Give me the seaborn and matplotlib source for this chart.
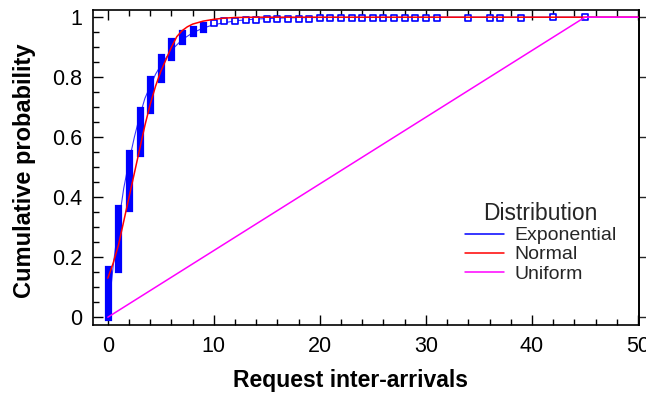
import numpy as np
import pandas as pd
import matplotlib
matplotlib.use("Agg")
import matplotlib.pyplot as plt
from matplotlib.ticker import MultipleLocator
import seaborn as sns

# ---------------- data ----------------
# empirical CDF jumps (filled bars) at integer inter-arrival values
ecdf_x = [0, 1, 2, 3, 4, 5, 6, 7, 8, 9]
ecdf_lo = [0.0, 0.16, 0.365, 0.548, 0.69, 0.795, 0.869, 0.92, 0.946, 0.962]
ecdf_hi = [0.16, 0.365, 0.548, 0.69, 0.795, 0.869, 0.92, 0.946, 0.962, 0.974]

# tail observations (open squares)
tail_x = [10, 11, 12, 13, 14, 15, 16, 17, 18, 19, 20, 21, 22, 23, 24, 25, 26,
          27, 28, 29, 30, 31, 34, 36, 37, 39, 42, 45]
tail_y = [0.982, 0.986, 0.989, 0.991, 0.992, 0.993, 0.994, 0.994, 0.995, 0.995,
          0.996, 0.996, 0.996, 0.997, 0.997, 0.997, 0.997, 0.998, 0.998, 0.998,
          0.998, 0.998, 0.999, 0.999, 0.999, 0.999, 1.0, 1.0]

# fitted distributions
exp_x = [0, 0.5, 1, 1.5, 2, 2.5, 3, 3.5, 4, 4.5, 5, 6, 7, 8, 9, 10, 12, 14, 17, 20, 30, 50]
exp_y = [0.0, 0.17, 0.31, 0.43, 0.52, 0.60, 0.67, 0.73, 0.77, 0.81, 0.84, 0.89,
         0.925, 0.948, 0.964, 0.975, 0.988, 0.994, 0.998, 0.999, 1.0, 1.0]

norm_x = [0, 0.5, 1, 1.5, 2, 2.5, 3, 3.5, 4, 4.5, 5, 5.5, 6, 6.5, 7, 7.5, 8, 9,
          10, 11, 12, 14, 50]
norm_y = [0.13, 0.18, 0.24, 0.32, 0.40, 0.48, 0.56, 0.64, 0.71, 0.77, 0.82, 0.86,
          0.90, 0.935, 0.955, 0.968, 0.977, 0.987, 0.993, 0.997, 0.999, 1.0, 1.0]

unif_x = [0, 45, 50]
unif_y = [0.0, 1.0, 1.0]

dist_names = ["Exponential", "Normal", "Uniform"]
dist_colors = ["#0000ff", "#ff0000", "#ff00ff"]

x_ticks = [0, 10, 20, 30, 40, 50]
y_ticks = [0, 0.2, 0.4, 0.6, 0.8, 1.0]
y_tick_labels = ["0", "0.2", "0.4", "0.6", "0.8", "1"]

# ---------------- plotting ----------------
sns.set_theme(style="ticks")
plt.rcParams["font.family"] = ["Liberation Sans", "DejaVu Sans"]

fig = plt.figure(figsize=(6.46, 3.96), dpi=100)
ax = fig.add_axes([93 / 646, 1 - 325 / 396, 546 / 646, 315 / 396])

curves = pd.concat([
    pd.DataFrame({"x": exp_x, "y": exp_y, "Distribution": dist_names[0]}),
    pd.DataFrame({"x": norm_x, "y": norm_y, "Distribution": dist_names[1]}),
    pd.DataFrame({"x": unif_x, "y": unif_y, "Distribution": dist_names[2]}),
], ignore_index=True)

sns.lineplot(data=curves, x="x", y="y", hue="Distribution",
             palette=dict(zip(dist_names, dist_colors)), linewidth=1.1,
             ax=ax, sort=False, estimator=None)
# blue (exponential) line sits under the data bars, others on top
lines = ax.get_lines()
lines[0].set_zorder(1)
lines[0].set_linewidth(0.8)
lines[0].set_alpha(0.8)
for ln in lines[1:3]:
    ln.set_zorder(4)

# empirical CDF bars
ax.vlines(ecdf_x, ecdf_lo, ecdf_hi, colors="#0000ff", linewidth=5.2,
          capstyle="projecting", zorder=2)
sns.scatterplot(x=tail_x, y=tail_y, marker="s", s=17, facecolor="white",
                edgecolor="#0000ff", linewidth=1.2, ax=ax, zorder=3, legend=False)

ax.set_xlim(-1.4, 50.1)
ax.set_ylim(-0.026, 1.024)

ax.set_xticks(x_ticks)
ax.set_xticklabels([str(v) for v in x_ticks])
ax.set_yticks(y_ticks)
ax.set_yticklabels(y_tick_labels)
ax.xaxis.set_minor_locator(MultipleLocator(2))
ax.yaxis.set_minor_locator(MultipleLocator(0.05))
ax.tick_params(which="both", direction="in", top=True, right=False,
               color="black", width=1.0)
ax.tick_params(which="major", length=7)
ax.tick_params(which="minor", length=4)
ax.tick_params(axis="y", which="major", labelsize=15.5, pad=8, labelcolor="black")
ax.tick_params(axis="x", which="major", labelsize=15.5, pad=8, labelcolor="black")

sec = ax.secondary_yaxis("right")
sec.set_yticks(y_ticks)
sec.tick_params(direction="out", length=6, width=1.0, labelright=False)
sec.spines["right"].set_color("black")

for sp in ax.spines.values():
    sp.set_color("black")
    sp.set_linewidth(1.2)

ax.set_xlabel("Request inter-arrivals", fontsize=16.5, fontweight="bold", color="black")
ax.set_ylabel("Cumulative probability", fontsize=17, fontweight="bold", color="black")
ax.xaxis.set_label_coords(0.4725, -0.14)
ax.yaxis.set_label_coords(-0.104, 0.489)

leg = ax.legend(loc="upper left", bbox_to_anchor=(0.681, 0.39), frameon=False,
                fontsize=14, title="Distribution", title_fontsize=16.5,
                handlelength=2.0, handletextpad=0.55, labelspacing=0.08,
                borderpad=0, borderaxespad=0)
for line in leg.get_lines():
    line.set_linewidth(1.1)
    line.set_alpha(1.0)

fig.savefig("out.png", dpi=100)
